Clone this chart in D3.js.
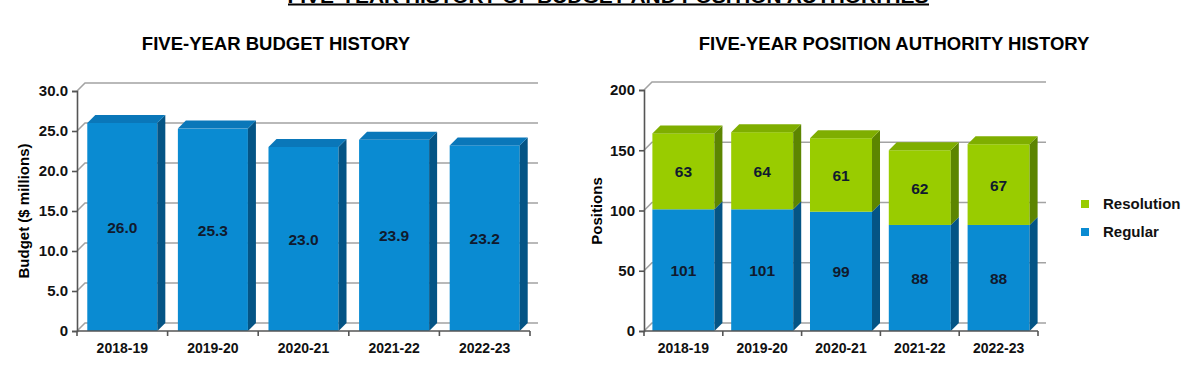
<!DOCTYPE html>
<html>
<head>
<meta charset="utf-8">
<script src="https://cdn.jsdelivr.net/npm/d3@7"></script>
<style>
  body { margin: 0; background: #fff; }
  svg { font-family: "Liberation Sans", Arial, sans-serif; font-weight: bold; }
</style>
</head>
<body>
<svg id="chart" width="1200" height="380"></svg>
<script>
const years = ['2018-19', '2019-20', '2020-21', '2021-22', '2022-23']
const budget = [26.0, 25.3, 23.0, 23.9, 23.2]
const regular = [101, 101, 99, 88, 88]
const resolution = [63, 64, 61, 62, 67]
const budgetTicks = [0, 5, 10, 15, 20, 25, 30]
const positionTicks = [0, 50, 100, 150, 200]
const seriesNames = ['Resolution', 'Regular']

const depth = 8
const blue = {front: '#0a8bd2', side: '#045485', top: '#0a77b9'}
const green = {front: '#99cc00', side: '#5c8500', top: '#7fae00'}
const labelColor = '#101a2e'

const svg = d3.select('#chart')

// main title, mostly cut off at the top (as in the source page)
svg.append('text')
  .attr('x', 608).attr('y', 2.5)
  .attr('text-anchor', 'middle')
  .attr('font-size', 18)
  .attr('textLength', 641).attr('lengthAdjust', 'spacingAndGlyphs')
  .text('FIVE-YEAR HISTORY OF BUDGET AND POSITION AUTHORITIES')
svg.append('line')
  .attr('x1', 288).attr('x2', 929)
  .attr('y1', 4.5).attr('y2', 4.5)
  .attr('stroke', '#000').attr('stroke-width', 2)

// draws one 3d-ish panel: back wall gridlines, bars, axes
function panel(opts) {
  const {x0, x1, yTop, yMax, ticks, fmt, title, titleX, yTitle, yTitleX, stacks, pad} = opts
  const g = svg.append('g')

  const x = d3.scaleBand().domain(years).range([x0, x1]).paddingInner(pad).paddingOuter(pad / 2)
  const y = d3.scaleLinear().domain([0, yMax]).range([331, yTop])

  g.append('text')
    .attr('x', titleX).attr('y', 50)
    .attr('text-anchor', 'middle')
    .attr('font-size', 18.5)
    .text(title)

  // gridlines on back wall + side wall diagonals
  const grid = g.append('g').attr('stroke', '#a3a3a3').attr('stroke-width', 1.6).attr('fill', 'none')
  ticks.forEach(t => {
    grid.append('path')
      .attr('d', `M${x0},${y(t)} L${x0 + depth},${y(t) - depth} L${x1 + depth},${y(t) - depth}`)
  })

  // bars
  stacks.forEach(s => {
    years.forEach((yr, i) => {
      const lo = s.base ? s.base[i] : 0
      const hi = lo + s.values[i]
      const bx = x(yr), bw = x.bandwidth()
      const yb = y(lo), yt = y(hi)
      g.append('rect')
        .attr('x', bx).attr('y', yt)
        .attr('width', bw).attr('height', yb - yt)
        .attr('fill', s.color.front)
      g.append('path')
        .attr('d', `M${bx + bw},${yt} L${bx + bw + depth},${yt - depth} L${bx + bw + depth},${yb - depth} L${bx + bw},${yb} Z`)
        .attr('fill', s.color.side)
      if (s.top) {
        g.append('path')
          .attr('d', `M${bx},${yt} L${bx + depth},${yt - depth} L${bx + bw + depth},${yt - depth} L${bx + bw},${yt} Z`)
          .attr('fill', s.color.top)
      }
      g.append('text')
        .attr('x', bx + bw / 2).attr('y', (yt + yb) / 2 + 6)
        .attr('text-anchor', 'middle')
        .attr('font-size', 15.5)
        .attr('fill', labelColor)
        .text(s.fmt(s.values[i]))
    })
  })

  // y axis
  const yAxis = g.append('g')
    .attr('transform', `translate(${x0},0)`)
    .call(d3.axisLeft(y).tickValues(ticks).tickFormat(fmt).tickSize(5).tickPadding(4))
  yAxis.attr('font-family', null).attr('font-size', null)
  yAxis.select('.domain').attr('stroke', '#555').attr('stroke-width', 1.6)
  yAxis.selectAll('.tick line').attr('stroke', '#555').attr('stroke-width', 1.6)
  yAxis.selectAll('.tick text').attr('font-size', 15).attr('fill', '#111')

  // x axis with ticks at band boundaries
  const xAxis = g.append('g')
    .attr('transform', 'translate(0,331)')
    .call(d3.axisBottom(x).tickSize(0).tickPadding(12))
  xAxis.attr('font-family', null).attr('font-size', null)
  xAxis.select('.domain').remove()
  xAxis.selectAll('.tick text').attr('font-size', 14).attr('fill', '#111')
  xAxis.append('line').attr('x1', x0).attr('x2', x1).attr('stroke', '#555').attr('stroke-width', 1.6)
  const bounds = d3.range(years.length + 1).map(i => x0 + i * x.step())
  xAxis.selectAll('.bound').data(bounds).join('line')
    .attr('class', 'bound')
    .attr('x1', d => d).attr('x2', d => d)
    .attr('y1', 0).attr('y2', 5)
    .attr('stroke', '#555').attr('stroke-width', 1.6)

  g.append('text')
    .attr('transform', `translate(${yTitleX},211) rotate(-90)`)
    .attr('text-anchor', 'middle')
    .attr('font-size', 15)
    .text(yTitle)

  return {x, y}
}

panel({
  x0: 77, x1: 530, yTop: 91, yMax: 30, ticks: budgetTicks, pad: 0.227,
  fmt: d => d === 0 ? '0' : d.toFixed(1),
  title: 'FIVE-YEAR BUDGET HISTORY', titleX: 276,
  yTitle: 'Budget ($ millions)', yTitleX: 29,
  stacks: [{values: budget, color: blue, top: true, fmt: d => d.toFixed(1)}]
})

panel({
  x0: 644, x1: 1038, yTop: 90, yMax: 200, ticks: positionTicks, pad: 0.213,
  fmt: d => String(d),
  title: 'FIVE-YEAR POSITION AUTHORITY HISTORY', titleX: 894,
  yTitle: 'Positions', yTitleX: 602,
  stacks: [
    {values: regular, color: blue, top: false, fmt: d => String(d)},
    {values: resolution, base: regular, color: green, top: true, fmt: d => String(d)}
  ]
})

// legend
const legend = svg.append('g').attr('transform', 'translate(1081,0)')
const legendColors = [green.front, blue.front]
seriesNames.forEach((name, i) => {
  const cy = 204 + i * 28
  legend.append('rect')
    .attr('x', 0).attr('y', cy - 4)
    .attr('width', 8).attr('height', 8)
    .attr('fill', legendColors[i])
  legend.append('text')
    .attr('x', 22).attr('y', cy + 5)
    .attr('font-size', 15)
    .attr('fill', '#111')
    .text(name)
})
</script>
</body>
</html>
